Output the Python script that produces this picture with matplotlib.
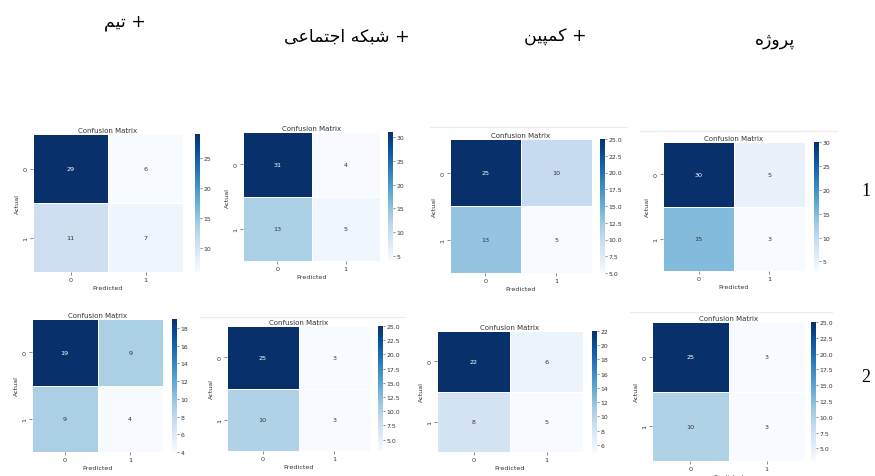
import numpy as np
import matplotlib
matplotlib.use("Agg")
import matplotlib.pyplot as plt
from matplotlib import cm, colors
from matplotlib.lines import Line2D

# Confusion matrices (rows: actual 0/1, cols: predicted 0/1)
runs = ["1", "2"]
feature_sets = ["+ تیم", "+ شبکه اجتماعی", "+ کمپین", "پروژه"]
cm_run1 = [
    [[29, 6], [11, 7]],
    [[31, 4], [13, 5]],
    [[25, 10], [13, 5]],
    [[30, 5], [15, 3]],
]
cm_run2 = [
    [[19, 9], [9, 4]],
    [[25, 3], [10, 3]],
    [[22, 6], [8, 5]],
    [[25, 3], [10, 3]],
]
class_labels = ["0", "1"]
cbar_steps = [[5, 5, 2.5, 5], [2, 2.5, 2, 2.5]]

# Minimal Persian shaping: matplotlib has no complex text layout,
# so letters are swapped for their contextual presentation forms.
FORMS = {
    "ا": ("\uFE8D", "\uFE8E", None, None),
    "ر": ("\uFEAD", "\uFEAE", None, None),
    "ژ": ("\uFB8A", "\uFB8B", None, None),
    "و": ("\uFEED", "\uFEEE", None, None),
    "ب": ("\uFE8F", "\uFE90", "\uFE91", "\uFE92"),
    "پ": ("\uFB56", "\uFB57", "\uFB58", "\uFB59"),
    "ت": ("\uFE95", "\uFE96", "\uFE97", "\uFE98"),
    "ج": ("\uFE9D", "\uFE9E", "\uFE9F", "\uFEA0"),
    "ه": ("\uFEE9", "\uFEEA", "\uFEEB", "\uFEEC"),
    "ک": ("\uFB8E", "\uFB8F", "\uFB90", "\uFB91"),
    "م": ("\uFEE1", "\uFEE2", "\uFEE3", "\uFEE4"),
    "ی": ("\uFBFC", "\uFBFD", "\uFBFE", "\uFBFF"),
    "ن": ("\uFEE5", "\uFEE6", "\uFEE7", "\uFEE8"),
    "ش": ("\uFEB5", "\uFEB6", "\uFEB7", "\uFEB8"),
    "ع": ("\uFEC9", "\uFECA", "\uFECB", "\uFECC"),
}


def shape_fa(text):
    out = []
    for i, ch in enumerate(text):
        if ch not in FORMS:
            out.append(ch)
            continue
        prev = text[i - 1] if i > 0 else ""
        nxt = text[i + 1] if i + 1 < len(text) else ""
        join_prev = prev in FORMS and FORMS[prev][2] is not None
        join_next = FORMS[ch][2] is not None and nxt in FORMS
        iso, fin, ini, med = FORMS[ch]
        if join_prev and join_next:
            out.append(med)
        elif join_prev:
            out.append(fin)
        elif join_next:
            out.append(ini)
        else:
            out.append(iso)
    return "".join(out)[::-1]


W, H = 875, 477
fig = plt.figure(figsize=(W / 100, H / 100), dpi=100)
fig.patch.set_facecolor("white")

# heatmap boxes in pixels: left, right, top, bottom, colorbar left
boxes = [
    [(33, 183, 135, 273, 195), (243, 380, 133, 262, 388),
     (450, 592, 140, 274, 600), (663, 805, 143, 272, 814)],
    [(32, 163, 320, 453, 172), (227, 370, 327, 452, 378),
     (437, 583, 332, 453, 592), (652, 805, 323, 462, 811)],
]

cmap = plt.get_cmap("Blues")
text_col = "#333333"


def px_rect(l, r, t, b):
    return [l / W, 1 - b / H, (r - l) / W, (b - t) / H]


# faint frame edges above some of the panels
for x0, x1, y in [(430, 627, 128), (640, 837, 132), (630, 832, 313), (200, 405, 318)]:
    fig.add_artist(Line2D([x0 / W, x1 / W], [1 - y / H, 1 - y / H],
                          color="#ececec", linewidth=0.8))

for row, mats in enumerate([cm_run1, cm_run2]):
    for col, mat in enumerate(mats):
        data = np.array(mat)
        l, r, t, b, cl = boxes[row][col]
        ax = fig.add_axes(px_rect(l, r, t, b))
        cax = fig.add_axes(px_rect(cl, cl + 5, t, b))
        norm = colors.Normalize(vmin=data.min(), vmax=data.max())
        ax.pcolormesh(data, cmap=cmap, norm=norm,
                      edgecolor="white", linewidth=0.4)
        ax.set_xlim(0, 2)
        ax.set_ylim(2, 0)
        for i in range(2):
            for j in range(2):
                rgba = cmap(norm(data[i, j]))
                lum = 0.2126 * rgba[0] + 0.7152 * rgba[1] + 0.0722 * rgba[2]
                ax.text(j + 0.5, i + 0.5, str(data[i, j]), ha="center",
                        va="center", fontsize=4.6,
                        color="white" if lum < 0.408 else text_col)
        ax.set_xticks([0.5, 1.5])
        ax.set_yticks([0.5, 1.5])
        ax.set_xticklabels(class_labels, fontsize=4.6, color=text_col)
        ax.set_yticklabels(class_labels, fontsize=4.6, color=text_col,
                           rotation=90, va="center")
        ax.tick_params(length=2, width=0.4, pad=1.5, colors=text_col)
        for sp in ax.spines.values():
            sp.set_visible(False)
        ax.set_title("Confusion Matrix", fontsize=5, color=text_col, pad=1.5)
        ax.set_xlabel("Predicted", fontsize=4.6, color=text_col, labelpad=2)
        ax.set_ylabel("Actual", fontsize=4.6, color=text_col, labelpad=2)

        cb = fig.colorbar(cm.ScalarMappable(norm=norm, cmap=cmap), cax=cax)
        cb.outline.set_visible(False)
        step = cbar_steps[row][col]
        first = np.ceil(data.min() / step) * step
        ticks = np.arange(first, data.max() + 1e-9, step)
        cb.set_ticks(ticks)
        if step == 2.5:
            cb.set_ticklabels([f"{v:.1f}" for v in ticks])
        else:
            cb.set_ticklabels([f"{v:.0f}" for v in ticks])
        cax.tick_params(labelsize=4.4, length=1.5, width=0.4, pad=1,
                        colors=text_col)

# column headers
header_pos = [(125, 22), (347, 37), (555, 37), (775, 40)]
for name, (x, y) in zip(feature_sets, header_pos):
    fig.text(x / W, 1 - y / H, shape_fa(name), ha="center", va="center",
             fontsize=12.5, family="DejaVu Sans", color="black")

# run labels on the right
for name, y in zip(runs, [192, 378]):
    fig.text(866 / W, 1 - y / H, name, ha="center", va="center",
             fontsize=13, family="Liberation Serif", color="black")

fig.savefig("out.png", dpi=100, facecolor="white")
